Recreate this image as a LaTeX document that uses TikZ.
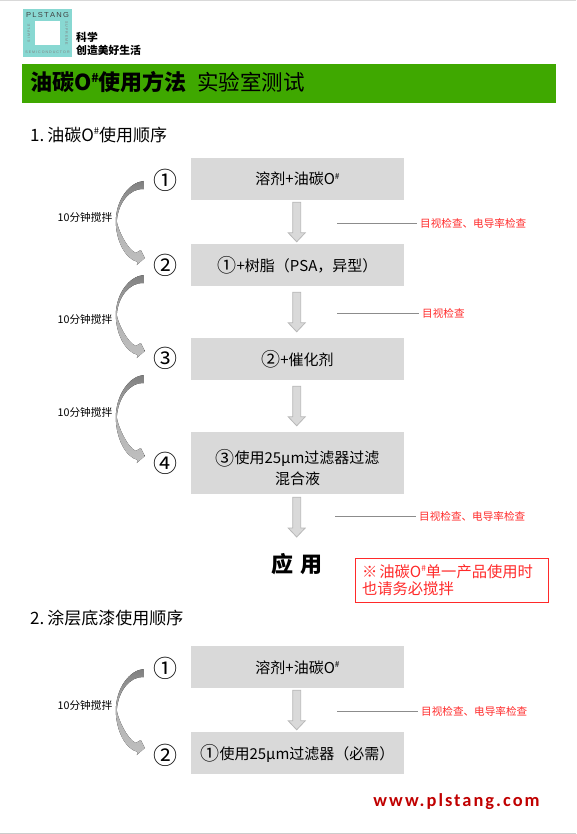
\documentclass[tikz,border=0pt]{standalone}
\usepackage{fontspec}
\setmainfont{Noto Sans CJK SC}
\newfontfamily\urlfont[LetterSpace=11]{Carlito}
\newfontfamily\logofont{Liberation Sans}
\usetikzlibrary{calc}
\definecolor{barGreen}{HTML}{3FA800}
\definecolor{boxGray}{HTML}{D9D9D9}
\definecolor{edgeGray}{HTML}{B8B8B8}
\definecolor{logoTeal}{HTML}{88D8D2}
\definecolor{noteRed}{HTML}{FF2A2A}
\definecolor{urlRed}{HTML}{C00000}
\newcommand{\fsz}[1]{\fontsize{#1}{#1}\selectfont}
\newcommand{\oil}{O\raisebox{0.38em}{\scalebox{0.55}{\#}}}
\newcommand{\circnum}[1]{\raisebox{-1.8pt}{\fsz{19}#1}}
% block arrow between two boxes
\newcommand{\blockarrow}[3]{
  \draw[blockfill] let \p1=($(#1.south)+(-0.8,#3)$), \p2=($(#2.north)+(-0.8,-#3)$) in
    (\x1-4pt,\y1) -- (\x1+4pt,\y1) -- (\x1+4pt,\y2+9pt) -- (\x1+8.5pt,\y2+9pt)
    -- (\x1,\y2) -- (\x1-8.5pt,\y2+9pt) -- (\x1-4pt,\y2+9pt) -- cycle;
}
% curved arrow between two numbers
\newcommand{\stirarrow}[3]{
  \fill[stirfill] let \p1=($(#1.west)+(-9,#3)$), \p2=($(#2.west)+(-8,-7)$),
    \n1={0.5*(\y1+\y2)}, \n2={\y1-\y2} in
    (\x1,\y1+4pt) .. controls (\x1-14pt,\y1+3pt) and (\x1-28pt,\n1+0.3*\n2) .. (\x1-28pt,\n1)
    .. controls (\x1-28pt,\n1-0.25*\n2) and (\x2-20pt,\y2-1pt) .. (\x2-7pt,\y2-4pt)
    -- (\x2-8pt,\y2-7pt) -- (\x2,\y2) -- (\x2-4pt,\y2+8pt) -- (\x2-9pt,\y2+5pt)
    .. controls (\x2-18pt,\y2+9pt) and (\x1-26pt,\n1-0.1*\n2) .. (\x1-27pt,\n1)
    .. controls (\x1-26pt,\n1+0.25*\n2) and (\x1-14pt,\y1-3pt) .. (\x1,\y1-4pt) -- cycle;
}
\tikzset{
  x=1pt, y=-1pt,
  stepbox/.style={fill=boxGray, minimum width=213pt, inner sep=0pt, align=center, font=\fsz{15}},
  stepline/.style={stepbox, minimum height=42pt, text height=15pt, text depth=3pt},
  stepnum/.style={inner sep=0pt, font=\fsz{24}},
  stirlabel/.style={inner sep=0pt, font=\fsz{10.7}},
  checklabel/.style={anchor=west, inner sep=0pt, text=noteRed, font=\fsz{10.6}},
  heading/.style={anchor=west, inner sep=0pt, font=\fsz{17}},
  blockfill/.style={fill=boxGray, draw=edgeGray, line width=0.8pt},
  stirfill/.style={top color=black!50, bottom color=black!25, middle color=black!30},
  leader/.style={draw=black!45, line width=0.8pt, shorten >=3pt},
}
\begin{document}
\begin{tikzpicture}
  \useasboundingbox (0,0) rectangle (576,834);
  % page rules
  \fill[black!15] (0,0) rectangle (576,1);
  \fill[black!20] (0,833) rectangle (576,834);
  % logo
  \fill[logoTeal] (23,9) rectangle (72,57);
  \fill[white] (35,21) rectangle (60,45);
  \node[inner sep=0pt, text=black!75, xscale=1.05] (logoname) at (47.5,15) {\logofont\fsz{7.2}P\,L\,S\,T\,A\,N\,G};
  \node[inner sep=0pt, text=black!50] (logosub) at (47.5,52) {\logofont\fsz{3.6}S E M I C O N D U C T O R};
  \node[inner sep=0pt, text=black!50, rotate=90] (logoleft) at (29,33) {\logofont\fsz{3.6}S I M P L E};
  \node[inner sep=0pt, text=black!50, rotate=-90] (logoright) at (66.5,33) {\logofont\fsz{3.6}S U P R E M E};
  \node[anchor=west, inner sep=0pt, font=\fsz{10.8}\bfseries] (slogana) at (76,37) {科学};
  \node[anchor=west, inner sep=0pt, font=\fsz{10.8}\bfseries] (sloganb) at (76,50) {创造美好生活};
  % title bar
  \fill[barGreen] (22,64) rectangle (556,103);
  \node[anchor=west, inner sep=0pt, font=\fsz{22}\bfseries] (title) at (30,82) {油碳\oil 使用方法};
  \node[anchor=west, inner sep=0pt, font=\fsz{21.5}] (subtitle) at (197,82) {实验室测试};
  % first sequence
  \node[heading] (heada) at (30,135) {1.\kern3pt 油碳\oil 使用顺序};
  \node[stepline] (boxa) at (297.5,179) {溶剂+油碳\oil};
  \node[stepline] (boxb) at (297.5,265) {\circnum{①}+树脂（PSA，异型）};
  \node[stepline] (boxc) at (297.5,359) {\circnum{②}+催化剂};
  \node[stepbox, minimum height=62pt] (boxd) at (297.5,463) {\rule{0pt}{24pt}\circnum{③}使用25µm过滤器过滤\\[4pt]混合液};
  \node[inner sep=0pt, font=\fsz{22}\bfseries] (apply) at (297,564) {应\,\,用};
  \coordinate (applytop) at (296.5,540);
  \node[stepnum] (numa) at (165,180) {①};
  \node[stepnum] (numb) at (165,265) {②};
  \node[stepnum] (numc) at (165,358) {③};
  \node[stepnum] (numd) at (165,463) {④};
  \blockarrow{boxa}{boxb}{2}
  \blockarrow{boxb}{boxc}{6}
  \blockarrow{boxc}{boxd}{6}
  \blockarrow{boxd}{applytop}{3}
  \stirarrow{numa}{numb}{5}
  \stirarrow{numb}{numc}{14}
  \stirarrow{numc}{numd}{21}
  \node[stirlabel] (stira) at (85,217) {10分钟搅拌};
  \node[stirlabel] (stirb) at (85,319) {10分钟搅拌};
  \node[stirlabel] (stirc) at (85,412) {10分钟搅拌};
  % check labels
  \coordinate (leada) at (337,223);
  \coordinate (leadb) at (337,313);
  \coordinate (leadc) at (335,516);
  \node[checklabel] (checka) at (420,223) {目视检查、电导率检查};
  \node[checklabel] (checkb) at (422,313) {目视检查};
  \node[checklabel] (checkc) at (419,516) {目视检查、电导率检查};
  \draw[leader] (leada) -- (checka);
  \draw[leader] (leadb) -- (checkb);
  \draw[leader] (leadc) -- (checkc);
  % note
  \node[draw=noteRed, line width=0.9pt, minimum width=193pt, minimum height=44pt, inner sep=0pt,
    text=noteRed, text width=179pt, font=\fsz{15.3}, align=left] (note) at (451.5,580)
    {※\kern2pt 油碳\oil 单一产品使用时\\[2pt]也请务必搅拌};
  % second sequence
  \node[heading] (headb) at (30,618) {2.\kern3pt 涂层底漆使用顺序};
  \node[stepline] (boxe) at (297.5,667) {溶剂+油碳\oil};
  \node[stepline] (boxf) at (297.5,753) {\circnum{①}使用25µm过滤器（必需）};
  \node[stepnum] (nume) at (165,668) {①};
  \node[stepnum] (numf) at (165,755) {②};
  \blockarrow{boxe}{boxf}{2}
  \stirarrow{nume}{numf}{5}
  \node[stirlabel] (stird) at (85,705) {10分钟搅拌};
  \coordinate (leadd) at (337,711);
  \node[checklabel] (checkd) at (421,711) {目视检查、电导率检查};
  \draw[leader] (leadd) -- (checkd);
  % web address
  \node[inner sep=0pt, text=urlRed, font=\fsz{18.4}\bfseries\urlfont] (web) at (456.5,802) {www.plstang.com};
\end{tikzpicture}
\end{document}
